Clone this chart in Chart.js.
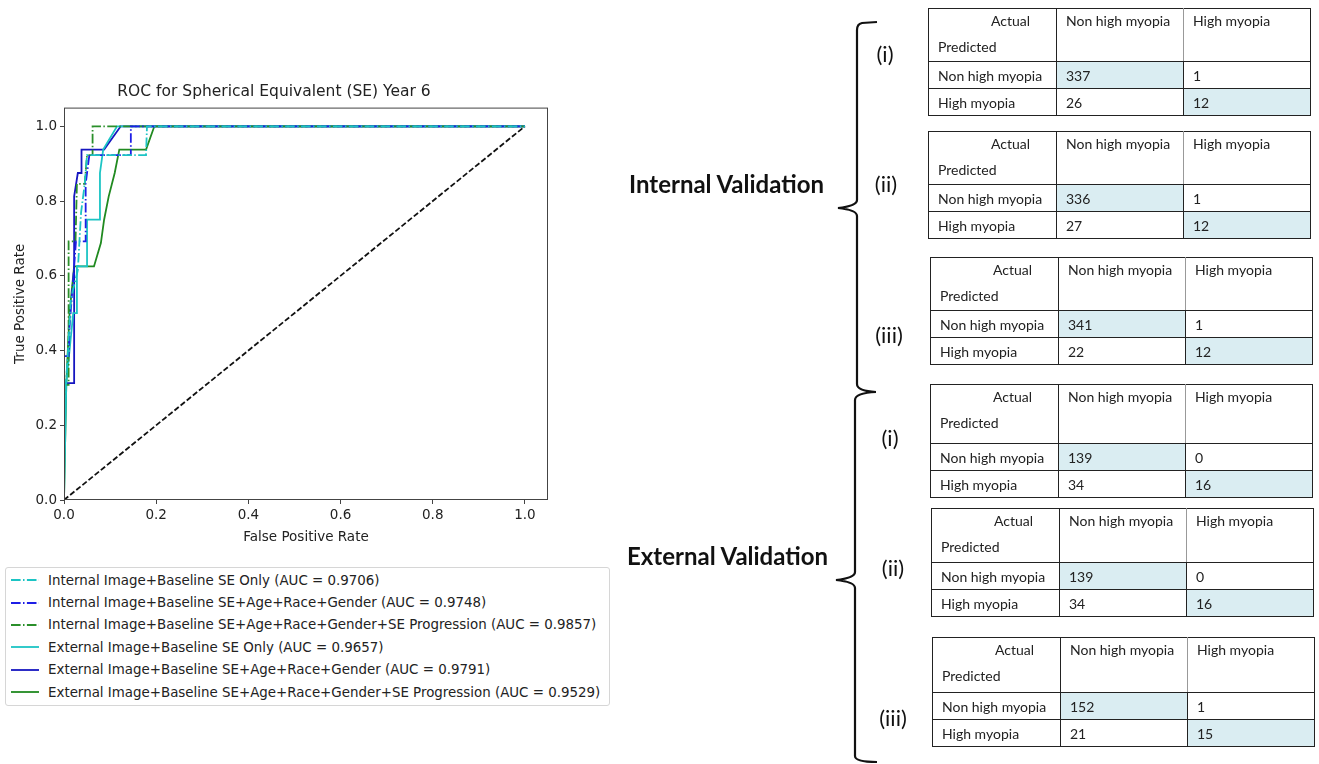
<!DOCTYPE html>
<html>
<head>
<meta charset="utf-8">
<script src="https://cdn.jsdelivr.net/npm/chart.js@4.4.1/dist/chart.umd.min.js"></script>
<style>
  body { margin: 0; background: #fff; }
  #page { position: relative; width: 1319px; height: 764px; overflow: hidden; font-family: "DejaVu Sans", sans-serif; }
  #roc { position: absolute; left: 0; top: 70px; }
  #legend { position: absolute; left: 5px; top: 567px; width: 605px; height: 139px; border: 1px solid #d6d6d6; border-radius: 3px; box-sizing: border-box; padding-top: 1px; }
  .lg-row { height: 22.4px; display: flex; align-items: center; font-size: 13.4px; color: #222; white-space: nowrap; }
  .lg-row svg { flex-shrink: 0; margin-left: 4px; margin-right: 8px; }
  .cm { position: absolute; border-collapse: collapse; font-family: Lato, "Open Sans", sans-serif; font-size: 14px; color: #222; }
  .cm td { border: 1.3px solid #222; padding: 0 0 0 9px; height: 26px; box-sizing: border-box; vertical-align: middle; }
  .cm tr.hd td { vertical-align: top; border-bottom-width: 1.6px; }
  .cm tr.hd td.c { border-left-color: #999; border-right-color: #999; }
  .cm td.hi { background: #daedf2; }
  .hdr-a { padding: 3px 0 0 53px; }
  .hdr-p { padding-top: 9px; }
  .hdr-c { padding-top: 3px; }
  .roman { position: absolute; font-family: Lato, sans-serif; font-size: 22px; color: #111; transform: translate(-50%, -50%); }
  .group { position: absolute; font-family: Lato, sans-serif; font-weight: bold; font-size: 24px; color: #111; transform: translateY(-50%); white-space: nowrap; }
  #braces { position: absolute; left: 0; top: 0; }
</style>
</head>
<body>
<div id="page">
  <canvas id="roc" width="570" height="490"></canvas>
  <div id="legend"></div>
  <svg id="braces" width="1319" height="764"></svg>
</div>
<script>
// ROC curves (false positive rate / true positive rate)
const intSeOnlyFpr = [0, 0, 0.008, 0.015, 0.03, 0.037, 0.045, 0.05, 0.178, 0.18, 1];
const intSeOnlyTpr = [0, 0.231, 0.385, 0.538, 0.615, 0.769, 0.846, 0.923, 0.923, 1, 1];
const intDemoFpr = [0, 0, 0.01, 0.012, 0.026, 0.047, 0.047, 0.055, 0.145, 0.145, 1];
const intDemoTpr = [0, 0.385, 0.385, 0.462, 0.692, 0.692, 0.846, 0.923, 0.923, 1, 1];
const intFullFpr = [0, 0, 0.01, 0.01, 0.025, 0.028, 0.045, 0.05, 0.062, 0.062, 1];
const intFullTpr = [0, 0.308, 0.308, 0.692, 0.692, 0.846, 0.846, 0.923, 0.923, 1, 1];
const extSeOnlyFpr = [0, 0.005, 0.02, 0.028, 0.028, 0.05, 0.05, 0.078, 0.078, 0.085, 0.115, 1];
const extSeOnlyTpr = [0, 0.3125, 0.5, 0.5, 0.625, 0.625, 0.75, 0.75, 0.875, 0.9375, 1, 1];
const extDemoFpr = [0, 0, 0.022, 0.022, 0.03, 0.038, 0.038, 0.087, 0.123, 1];
const extDemoTpr = [0, 0.3125, 0.3125, 0.8125, 0.875, 0.875, 0.9375, 0.9375, 1, 1];
const extFullFpr = [0, 0.005, 0.012, 0.022, 0.065, 0.08, 0.087, 0.097, 0.11, 0.12, 0.178, 0.196, 1];
const extFullTpr = [0, 0.3125, 0.5, 0.625, 0.625, 0.6875, 0.75, 0.8125, 0.875, 0.9375, 0.9375, 1, 1];
const chanceFpr = [0, 1];
const chanceTpr = [0, 1];

const seriesLabels = [
  "Internal Image+Baseline SE Only (AUC = 0.9706)",
  "Internal Image+Baseline SE+Age+Race+Gender (AUC = 0.9748)",
  "Internal Image+Baseline SE+Age+Race+Gender+SE Progression (AUC = 0.9857)",
  "External Image+Baseline SE Only (AUC = 0.9657)",
  "External Image+Baseline SE+Age+Race+Gender (AUC = 0.9791)",
  "External Image+Baseline SE+Age+Race+Gender+SE Progression (AUC = 0.9529)"
];
const axisTicks = [0, 0.2, 0.4, 0.6, 0.8, 1.0];

// confusion matrices: rows = predicted, columns = actual
const tableTags = ["(i)", "(ii)", "(iii)", "(i)", "(ii)", "(iii)"];
const predNonActNon = [337, 336, 341, 139, 139, 152];
const predNonActHigh = [1, 1, 1, 0, 0, 1];
const predHighActNon = [26, 27, 22, 34, 34, 21];
const predHighActHigh = [12, 12, 12, 16, 16, 15];

function pts(xs, ys) {
  return xs.map((x, i) => ({ x: x, y: ys[i] }));
}

const dashDot = [9.6, 2.4, 1.5, 2.4];
const datasets = [
  { label: seriesLabels[0], data: pts(intSeOnlyFpr, intSeOnlyTpr), borderColor: "#1cc4c4", borderDash: dashDot },
  { label: seriesLabels[1], data: pts(intDemoFpr, intDemoTpr), borderColor: "#1e1ee6", borderDash: dashDot },
  { label: seriesLabels[2], data: pts(intFullFpr, intFullTpr), borderColor: "#2a8f2a", borderDash: dashDot },
  { label: seriesLabels[3], data: pts(extSeOnlyFpr, extSeOnlyTpr), borderColor: "#1cc4c4", borderDash: [] },
  { label: seriesLabels[4], data: pts(extDemoFpr, extDemoTpr), borderColor: "#1616c0", borderDash: [] },
  { label: seriesLabels[5], data: pts(extFullFpr, extFullTpr), borderColor: "#208a20", borderDash: [] },
  { label: "chance", data: pts(chanceFpr, chanceTpr), borderColor: "#111", borderDash: [5.5, 2.4] }
];
datasets.forEach(d => {
  d.showLine = true;
  d.pointRadius = 0;
  d.borderWidth = 1.8;
  d.fill = false;
  d.tension = 0;
});

const framePlugin = {
  id: "frame",
  afterDraw(chart) {
    const a = chart.chartArea;
    const ctx = chart.ctx;
    ctx.save();
    ctx.strokeStyle = "#444";
    ctx.lineWidth = 1;
    ctx.strokeRect(a.left + 0.5, a.top + 0.5, a.right - a.left - 1, a.bottom - a.top - 1);
    ctx.restore();
  }
};

function axisOpts(title, size, titlePad) {
  return {
    type: "linear",
    min: 0,
    max: 1.05,
    afterBuildTicks: s => { s.ticks = axisTicks.map(v => ({ value: v })); },
    afterFit: s => { if (s.isHorizontal()) s.height = size; else s.width = size; },
    border: { display: false },
    grid: { drawOnChartArea: false, drawTicks: true, tickLength: 4, tickWidth: 1, color: "#444" },
    ticks: { padding: 3, color: "#222", font: { family: "DejaVu Sans", size: 13.5 }, callback: v => Number(v).toFixed(1) },
    title: { display: true, text: title, color: "#222", font: { family: "DejaVu Sans", size: 13.5 }, padding: titlePad }
  };
}

new Chart(document.getElementById("roc"), {
  type: "scatter",
  data: { datasets: datasets },
  options: {
    responsive: false,
    animation: false,
    devicePixelRatio: 1,
    layout: { padding: { left: 0, right: 22, top: 0, bottom: 0 } },
    plugins: {
      legend: { display: false },
      tooltip: { enabled: false },
      title: {
        display: true,
        text: "ROC for Spherical Equivalent (SE) Year 6",
        color: "#222",
        font: { family: "DejaVu Sans", size: 15.5, weight: "normal" },
        padding: { top: 13, bottom: 6 }
      }
    },
    scales: {
      x: axisOpts("False Positive Rate", 60, { top: 0, bottom: 14 }),
      y: axisOpts("True Positive Rate", 64, { top: 12, bottom: 0 })
    }
  },
  plugins: [framePlugin]
});

// legend below the plot
const legend = document.getElementById("legend");
datasets.slice(0, 6).forEach(d => {
  const row = document.createElement("div");
  row.className = "lg-row";
  const dash = d.borderDash.length ? ' stroke-dasharray="' + d.borderDash.join(",") + '"' : "";
  row.innerHTML = '<svg width="30" height="10"><line x1="1" y1="5" x2="29" y2="5" stroke="' + d.borderColor +
    '" stroke-width="1.8"' + dash + '/></svg><span>' + d.label + '</span>';
  legend.appendChild(row);
});

// confusion matrix tables
const page = document.getElementById("page");
const tablePos = [
  { left: 928, top: 8, head: 53, tagX: 885, tagY: 53 },
  { left: 928, top: 131, head: 53, tagX: 886, tagY: 183 },
  { left: 930, top: 257, head: 53, tagX: 889, tagY: 334 },
  { left: 930, top: 384, head: 59, tagX: 890, tagY: 437 },
  { left: 931, top: 508, head: 54, tagX: 893, tagY: 567 },
  { left: 932, top: 637, head: 55, tagX: 893, tagY: 717 }
];
tableTags.forEach((tag, i) => {
  const p = tablePos[i];
  const t = document.createElement("table");
  t.className = "cm";
  t.style.left = p.left + "px";
  t.style.top = p.top + "px";
  t.innerHTML =
    '<colgroup><col style="width:128px"><col style="width:127px"><col style="width:127px"></colgroup>' +
    '<tr class="hd" style="height:' + p.head + 'px"><td><div class="hdr-a">Actual</div><div class="hdr-p">Predicted</div></td>' +
    '<td class="c"><div class="hdr-c">Non high myopia</div></td><td><div class="hdr-c">High myopia</div></td></tr>' +
    '<tr style="height:27px"><td>Non high myopia</td><td class="hi">' + predNonActNon[i] + '</td><td>' + predNonActHigh[i] + '</td></tr>' +
    '<tr style="height:27px"><td>High myopia</td><td>' + predHighActNon[i] + '</td><td class="hi">' + predHighActHigh[i] + '</td></tr>';
  page.appendChild(t);
  const r = document.createElement("div");
  r.className = "roman";
  r.style.left = p.tagX + "px";
  r.style.top = p.tagY + "px";
  r.textContent = tag;
  page.appendChild(r);
});

[["Internal Validation", 629, 183], ["External Validation", 627, 555]].forEach(g => {
  const d = document.createElement("div");
  d.className = "group";
  d.style.left = g[1] + "px";
  d.style.top = g[2] + "px";
  d.textContent = g[0];
  page.appendChild(d);
});

// curly braces
document.getElementById("braces").innerHTML =
  '<path d="M877,22 L862,23 Q857,24 857,30 L857,200 Q857,206 838,208 Q857,210 857,216 L857,384 Q857,391 876,392" fill="none" stroke="#111" stroke-width="2.2"/>' +
  '<path d="M876,392 Q855,393 855,400 L855,572 Q855,578 836,580 Q855,582 855,588 L855,756 Q855,762 877,762" fill="none" stroke="#111" stroke-width="2.2"/>';
</script>
</body>
</html>
